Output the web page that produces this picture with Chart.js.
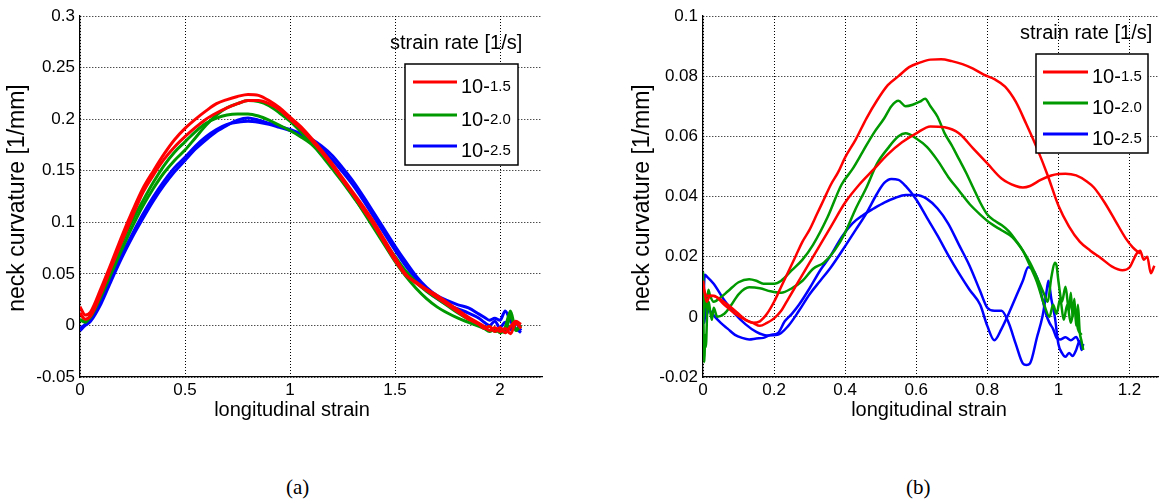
<!DOCTYPE html>
<html>
<head>
<meta charset="utf-8">
<script src="https://cdn.jsdelivr.net/npm/chart.js@4.4.1/dist/chart.umd.min.js"></script>
<style>
  html, body { margin: 0; padding: 0; background: #fff; }
  body { width: 1159px; height: 501px; overflow: hidden; position: relative; }
  .wrap { position: absolute; top: 0; }
  .cap { position: absolute; top: 476px; line-height: 22px; font-family: "Liberation Serif", "Times New Roman", serif; font-size: 21px; color: #000; }
</style>
</head>
<body>
<div class="wrap" style="left:0px"><canvas id="chartA" width="560" height="430"></canvas></div>
<div class="wrap" style="left:600px"><canvas id="chartB" width="575" height="430"></canvas></div>
<div class="cap" style="left:286px">(a)</div>
<div class="cap" style="left:906px">(b)</div>
<script>
// ---- text ----
const xTitle = 'longitudinal strain';
const yTitle = 'neck curvature [1/mm]';
const legendTitle = 'strain rate [1/s]';
const rateBase = '10-';
const rateExp = ['1.5', '2.0', '2.5'];
const rateColors = ['#ff0000', '#009900', '#0000ff'];

// ---- tick labels ----
const leftXTicks = [0, 0.5, 1, 1.5, 2];
const leftYTicks = [-0.05, 0, 0.05, 0.1, 0.15, 0.2, 0.25, 0.3];
const rightXTicks = [0, 0.2, 0.4, 0.6, 0.8, 1, 1.2];
const rightYTicks = [-0.02, 0, 0.02, 0.04, 0.06, 0.08, 0.1];

// ---- (a) data: strain grid + two specimens per strain rate ----
const leftStrain = [0, 0.025, 0.05, 0.1, 0.15, 0.2, 0.25, 0.3, 0.35, 0.4, 0.45, 0.5, 0.55, 0.6, 0.65, 0.7, 0.75, 0.8, 0.85, 0.9, 0.95, 1.0,
  1.05, 1.1, 1.15, 1.2, 1.25, 1.3, 1.35, 1.4, 1.45, 1.5, 1.55, 1.6, 1.65, 1.7, 1.75, 1.8, 1.85, 1.9, 1.925, 1.95, 1.975, 2.0, 2.025, 2.05, 2.075, 2.1];
const leftRedA = [0.018, 0.010, 0.013, 0.036, 0.061, 0.087, 0.111, 0.133, 0.150, 0.166, 0.180, 0.191, 0.200, 0.208, 0.215, 0.219, 0.222, 0.224, 0.223, 0.218, 0.211, 0.202,
  0.193, 0.182, 0.170, 0.157, 0.143, 0.129, 0.115, 0.100, 0.083, 0.066, 0.050, 0.041, 0.034, 0.027, 0.020, 0.013, 0.006, 0.001, -0.003, -0.001, -0.006, -0.002, -0.007, -0.001, 0.004, 0.001];
const leftRedB = [0.012, 0.006, 0.009, 0.031, 0.057, 0.082, 0.106, 0.129, 0.146, 0.161, 0.173, 0.183, 0.192, 0.200, 0.206, 0.211, 0.215, 0.218, 0.218, 0.215, 0.209, 0.200,
  0.191, 0.180, 0.168, 0.155, 0.141, 0.127, 0.112, 0.097, 0.080, 0.063, 0.049, 0.042, 0.035, 0.029, 0.022, 0.015, 0.008, 0.002, -0.001, -0.005, -0.002, -0.006, -0.003, -0.008, 0.002, -0.003];
const leftGreenA = [0.005, 0.004, 0.008, 0.028, 0.051, 0.074, 0.096, 0.116, 0.133, 0.148, 0.160, 0.170, 0.182, 0.194, 0.204, 0.211, 0.215, 0.218, 0.217, 0.213, 0.206, 0.198,
  0.188, 0.177, 0.165, 0.152, 0.139, 0.125, 0.111, 0.096, 0.081, 0.067, 0.053, 0.042, 0.033, 0.026, 0.019, 0.012, 0.006, 0.001, -0.003, -0.001, -0.006, -0.004, -0.007, 0.010, -0.005, 0.000];
const leftGreenB = [0.006, 0.003, 0.010, 0.032, 0.056, 0.080, 0.102, 0.121, 0.139, 0.155, 0.168, 0.178, 0.188, 0.196, 0.201, 0.204, 0.205, 0.205, 0.203, 0.199, 0.194, 0.189,
  0.183, 0.176, 0.166, 0.154, 0.141, 0.126, 0.110, 0.094, 0.078, 0.062, 0.048, 0.036, 0.026, 0.018, 0.012, 0.007, 0.003, -0.001, -0.003, -0.006, -0.003, -0.007, -0.002, 0.014, -0.004, -0.001];
const leftBlueA = [-0.005, 0.000, 0.004, 0.021, 0.044, 0.066, 0.086, 0.104, 0.121, 0.136, 0.149, 0.160, 0.171, 0.180, 0.188, 0.194, 0.199, 0.201, 0.199, 0.196, 0.193, 0.190,
  0.186, 0.181, 0.174, 0.165, 0.153, 0.140, 0.125, 0.109, 0.093, 0.077, 0.062, 0.048, 0.037, 0.029, 0.024, 0.020, 0.017, 0.011, 0.008, 0.005, 0.007, 0.005, 0.014, 0.004, -0.003, -0.007];
const leftBlueB = [-0.003, 0.001, 0.006, 0.024, 0.047, 0.069, 0.089, 0.108, 0.125, 0.140, 0.153, 0.163, 0.174, 0.183, 0.190, 0.195, 0.197, 0.198, 0.197, 0.195, 0.192, 0.189,
  0.185, 0.179, 0.171, 0.161, 0.149, 0.136, 0.121, 0.105, 0.089, 0.073, 0.058, 0.045, 0.034, 0.026, 0.020, 0.016, 0.012, 0.007, 0.003, 0.000, 0.004, -0.002, 0.003, -0.004, 0.002, -0.005];

// ---- (b) data ----
const rRedAx = [0, 0.01, 0.03, 0.06, 0.09, 0.12, 0.14, 0.16, 0.18, 0.2, 0.22, 0.24, 0.26, 0.28, 0.3, 0.32, 0.34, 0.36, 0.38, 0.4, 0.43, 0.46, 0.49, 0.52, 0.55, 0.58,
  0.61, 0.64, 0.67, 0.7, 0.73, 0.76, 0.79, 0.82, 0.85, 0.88, 0.91, 0.94, 0.97, 1.0, 1.03, 1.06, 1.09, 1.12, 1.15, 1.18, 1.2, 1.22, 1.23, 1.24, 1.25, 1.26, 1.27];
const rRedAy = [0.010, 0.007, 0.007, 0.004, 0.001, -0.001, -0.002, -0.0015, 0.001, 0.005, 0.010, 0.015, 0.020, 0.025, 0.029, 0.034, 0.039, 0.044, 0.048, 0.053, 0.059, 0.066, 0.072, 0.077, 0.080, 0.083,
  0.0845, 0.0855, 0.0856, 0.085, 0.084, 0.0825, 0.0805, 0.079, 0.0765, 0.0715, 0.064, 0.056, 0.047, 0.037, 0.030, 0.025, 0.022, 0.0195, 0.0168, 0.0155, 0.0164, 0.021, 0.022, 0.019, 0.020, 0.0145, 0.017];
const rRedBx = [0, 0.01, 0.02, 0.04, 0.07, 0.1, 0.12, 0.14, 0.16, 0.18, 0.2, 0.22, 0.24, 0.27, 0.3, 0.33, 0.36, 0.4, 0.44, 0.48, 0.52, 0.56,
  0.6, 0.64, 0.68, 0.72, 0.76, 0.8, 0.84, 0.88, 0.9, 0.92, 0.95, 0.98, 1.0, 1.02, 1.05, 1.08, 1.1, 1.13, 1.16, 1.19, 1.21, 1.23];
const rRedBy = [0.012, 0.005, 0.007, 0.0065, 0.004, 0.001, -0.001, -0.002, -0.003, -0.002, -0.0005, 0.002, 0.006, 0.012, 0.018, 0.024, 0.030, 0.038, 0.044, 0.049, 0.054, 0.058,
  0.061, 0.0633, 0.063, 0.061, 0.056, 0.051, 0.046, 0.0435, 0.043, 0.0435, 0.0455, 0.047, 0.0475, 0.0476, 0.047, 0.045, 0.043, 0.038, 0.032, 0.026, 0.023, 0.021];
const rGreenAx = [0, 0.003, 0.006, 0.01, 0.015, 0.02, 0.03, 0.05, 0.07, 0.1, 0.13, 0.15, 0.17, 0.2, 0.22, 0.25, 0.28, 0.31, 0.35, 0.39, 0.42, 0.45, 0.48, 0.51, 0.53, 0.55, 0.57, 0.59, 0.61,
  0.625, 0.64, 0.66, 0.68, 0.7, 0.72, 0.74, 0.76, 0.78, 0.8, 0.82, 0.84, 0.86, 0.88, 0.9, 0.92, 0.94, 0.96, 0.975, 0.985, 0.995, 1.005, 1.015, 1.025, 1.035, 1.045, 1.055, 1.065];
const rGreenAy = [0.015, 0.0, 0.008, 0.003, 0.009, 0.007, 0.005, 0.0065, 0.0085, 0.0115, 0.0125, 0.012, 0.011, 0.011, 0.012, 0.0155, 0.019, 0.024, 0.033, 0.044, 0.049, 0.055, 0.061, 0.066, 0.070, 0.0718, 0.070, 0.0705, 0.0715,
  0.0725, 0.070, 0.0665, 0.061, 0.057, 0.0525, 0.048, 0.043, 0.038, 0.034, 0.032, 0.0305, 0.0285, 0.0255, 0.022, 0.017, 0.0115, 0.004, 0.000, 0.004, 0.001, 0.006, -0.001, 0.004, -0.002, 0.003, -0.004, -0.006];
const rGreenBx = [0, 0.002, 0.004, 0.006, 0.008, 0.012, 0.016, 0.02, 0.025, 0.03, 0.04, 0.06, 0.08, 0.1, 0.13, 0.16, 0.19, 0.22, 0.25, 0.28, 0.31, 0.34, 0.37, 0.4, 0.43, 0.46, 0.49, 0.52, 0.55, 0.57,
  0.6, 0.63, 0.66, 0.69, 0.72, 0.75, 0.78, 0.81, 0.84, 0.87, 0.9, 0.92, 0.94, 0.96, 0.97, 0.98, 0.99, 0.995, 1.0, 1.01, 1.02, 1.03, 1.035, 1.04, 1.045, 1.05, 1.055, 1.06, 1.065, 1.07];
const rGreenBy = [0.012, -0.008, -0.015, -0.006, -0.010, 0.002, 0.005, 0.002, -0.001, 0.003, 0.000, 0.001, 0.004, 0.0075, 0.0098, 0.0095, 0.0085, 0.008, 0.0095, 0.012, 0.016, 0.018, 0.022, 0.028, 0.036, 0.043, 0.051, 0.056, 0.060, 0.061,
  0.0593, 0.0565, 0.052, 0.0465, 0.042, 0.0375, 0.034, 0.031, 0.0288, 0.0265, 0.022, 0.018, 0.013, 0.0075, 0.005, 0.013, 0.018, 0.017, 0.012, 0.005, 0.010, 0.002, 0.008, 0.000, 0.006, -0.003, 0.004, -0.005, -0.008, -0.011];
const rBlueAx = [0, 0.005, 0.01, 0.03, 0.06, 0.09, 0.12, 0.15, 0.18, 0.21, 0.24, 0.27, 0.3, 0.33, 0.36, 0.4, 0.43, 0.46, 0.49, 0.51, 0.53, 0.55, 0.57, 0.6, 0.63,
  0.66, 0.69, 0.72, 0.75, 0.78, 0.8, 0.82, 0.84, 0.86, 0.88, 0.9, 0.915, 0.925, 0.94, 0.955, 0.965, 0.975, 0.985, 0.995, 1.005, 1.02, 1.035, 1.05, 1.06];
const rBlueAy = [0.000, 0.014, 0.0135, 0.011, 0.0055, 0.001, -0.0025, -0.005, -0.0062, -0.006, -0.003, 0.002, 0.0075, 0.012, 0.0165, 0.0235, 0.029, 0.0345, 0.041, 0.0445, 0.0458, 0.0455, 0.0435, 0.039, 0.033,
  0.027, 0.0205, 0.0145, 0.009, 0.004, -0.003, -0.0078, -0.004, 0.001, 0.0065, 0.012, 0.0165, 0.016, 0.013, 0.006, 0.001, -0.002, -0.004, -0.007, -0.0075, -0.0068, -0.0078, -0.0067, -0.009];
const rBlueBx = [0, 0.004, 0.008, 0.012, 0.016, 0.02, 0.03, 0.05, 0.07, 0.09, 0.11, 0.13, 0.15, 0.17, 0.19, 0.21, 0.23, 0.25, 0.27, 0.3, 0.33, 0.36, 0.39, 0.42, 0.45, 0.48, 0.51, 0.54, 0.57, 0.6,
  0.63, 0.66, 0.69, 0.72, 0.75, 0.78, 0.8, 0.82, 0.84, 0.86, 0.88, 0.9, 0.91, 0.92, 0.94, 0.955, 0.965, 0.972, 0.98, 0.99, 1.0, 1.01, 1.02, 1.03, 1.04, 1.05, 1.06, 1.065, 1.07];
const rBlueBy = [0.006, -0.002, 0.004, 0.001, 0.003, 0.002, 0.0005, -0.002, -0.004, -0.006, -0.007, -0.0075, -0.0072, -0.007, -0.006, -0.0055, -0.0015, 0.001, 0.004, 0.0095, 0.0155, 0.0205, 0.0265, 0.031, 0.0338, 0.036, 0.038, 0.0395, 0.0405, 0.0405,
  0.0392, 0.036, 0.031, 0.024, 0.017, 0.0085, 0.003, 0.002, 0.002, -0.002, -0.009, -0.0155, -0.016, -0.0155, -0.0067, 0.000, 0.007, 0.012, 0.006, 0.000, -0.009, -0.012, -0.0133, -0.012, -0.013, -0.011, -0.008, -0.011, -0.009];

const FONT = '"Liberation Sans", Arial, sans-serif';
Chart.defaults.font.family = FONT;
Chart.defaults.color = '#000';

function pts(xs, ys) {
  return xs.map((x, i) => ({ x: x, y: ys[i] }));
}

function fmt(v) {
  return String(Number(v.toFixed(3)));
}

// axis titles, legend caption and legend box
const figText = {
  id: 'figText',
  afterDraw(chart, args, o) {
    const ctx = chart.ctx;
    ctx.save();
    ctx.fillStyle = '#000';
    ctx.textAlign = 'center';
    ctx.textBaseline = 'middle';
    ctx.font = '20px ' + FONT;
    ctx.fillText(xTitle, o.xTitle[0], o.xTitle[1]);
    ctx.save();
    ctx.translate(o.yTitle[0], o.yTitle[1]);
    ctx.rotate(-Math.PI / 2);
    ctx.font = '23px ' + FONT;
    ctx.fillText(yTitle, 0, 0);
    ctx.restore();

    ctx.textAlign = 'left';
    ctx.font = '20px ' + FONT;
    ctx.fillText(legendTitle, o.caption[0], o.caption[1]);

    const b = o.box;
    ctx.fillStyle = '#fff';
    ctx.fillRect(b[0], b[1], b[2], b[3]);
    ctx.strokeStyle = '#000';
    ctx.lineWidth = 1.5;
    ctx.strokeRect(b[0], b[1], b[2], b[3]);

    ctx.textBaseline = 'alphabetic';
    o.rows.forEach((y, i) => {
      ctx.strokeStyle = rateColors[i];
      ctx.lineWidth = 3;
      ctx.beginPath();
      ctx.moveTo(o.line[0], y);
      ctx.lineTo(o.line[1], y);
      ctx.stroke();
      ctx.fillStyle = '#000';
      ctx.font = '20px ' + FONT;
      ctx.fillText(rateBase, o.textX, y + 11);
      const w = ctx.measureText(rateBase).width;
      ctx.font = '15px ' + FONT;
      ctx.fillText(rateExp[i], o.textX + w, y + 8.5);
    });
    ctx.restore();
  }
};

function series(data, color, width) {
  return {
    data: data,
    borderColor: color,
    borderWidth: width,
    pointRadius: 0,
    fill: false,
    cubicInterpolationMode: 'monotone'
  };
}

function makeChart(id, datasets, xr, yr, xTicks, yTicks, yAxisWidth, padRight, text) {
  return new Chart(id, {
    type: 'line',
    data: { datasets: datasets },
    options: {
      responsive: false,
      animation: false,
      devicePixelRatio: 1,
      layout: { padding: { top: 16, right: padRight, bottom: 0, left: 0 } },
      plugins: {
        legend: { display: false },
        tooltip: { enabled: false },
        figText: text
      },
      scales: {
        x: {
          type: 'linear',
          min: xr[0],
          max: xr[1],
          afterBuildTicks: (s) => { s.ticks = xTicks.map(v => ({ value: v })); },
          afterFit: (s) => { s.height = 53; },
          ticks: { font: { size: 17 }, padding: 3, maxRotation: 0, autoSkip: false, callback: fmt },
          grid: { color: '#000', lineWidth: 1, drawTicks: false },
          border: { color: '#000', width: 1.3, dash: [1, 2] }
        },
        y: {
          min: yr[0],
          max: yr[1],
          afterBuildTicks: (s) => { s.ticks = yTicks.map(v => ({ value: v })); },
          afterFit: (s) => { s.width = yAxisWidth; },
          ticks: { font: { size: 17 }, padding: 5, autoSkip: false, callback: fmt },
          grid: { color: '#000', lineWidth: 1, drawTicks: false },
          border: { color: '#000', width: 1.3, dash: [1, 2] }
        }
      }
    },
    plugins: [figText]
  });
}

makeChart('chartA', [
  series(pts(leftStrain, leftRedA), rateColors[0], 3),
  series(pts(leftStrain, leftRedB), rateColors[0], 3),
  series(pts(leftStrain, leftGreenA), rateColors[1], 3),
  series(pts(leftStrain, leftGreenB), rateColors[1], 3),
  series(pts(leftStrain, leftBlueA), rateColors[2], 3),
  series(pts(leftStrain, leftBlueB), rateColors[2], 3)
], [0, 2.2], [-0.05, 0.3], leftXTicks, leftYTicks, 80, 18, {
  xTitle: [292, 410], yTitle: [18, 198], caption: [390, 43],
  box: [405, 64, 113, 101], rows: [82, 115, 146], line: [413, 457], textX: 461
});

makeChart('chartB', [
  series(pts(rRedAx, rRedAy), rateColors[0], 2.5),
  series(pts(rRedBx, rRedBy), rateColors[0], 2.5),
  series(pts(rGreenAx, rGreenAy), rateColors[1], 2.5),
  series(pts(rGreenBx, rGreenBy), rateColors[1], 2.5),
  series(pts(rBlueAx, rBlueAy), rateColors[2], 2.5),
  series(pts(rBlueBx, rBlueBy), rateColors[2], 2.5)
], [0, 1.3], [-0.02, 0.1], rightXTicks, rightYTicks, 103, 10, {
  xTitle: [329, 410], yTitle: [43, 198], caption: [420, 33],
  box: [436, 54, 112, 99], rows: [72, 103, 134], line: [443, 488], textX: 492
});
</script>
</body>
</html>
